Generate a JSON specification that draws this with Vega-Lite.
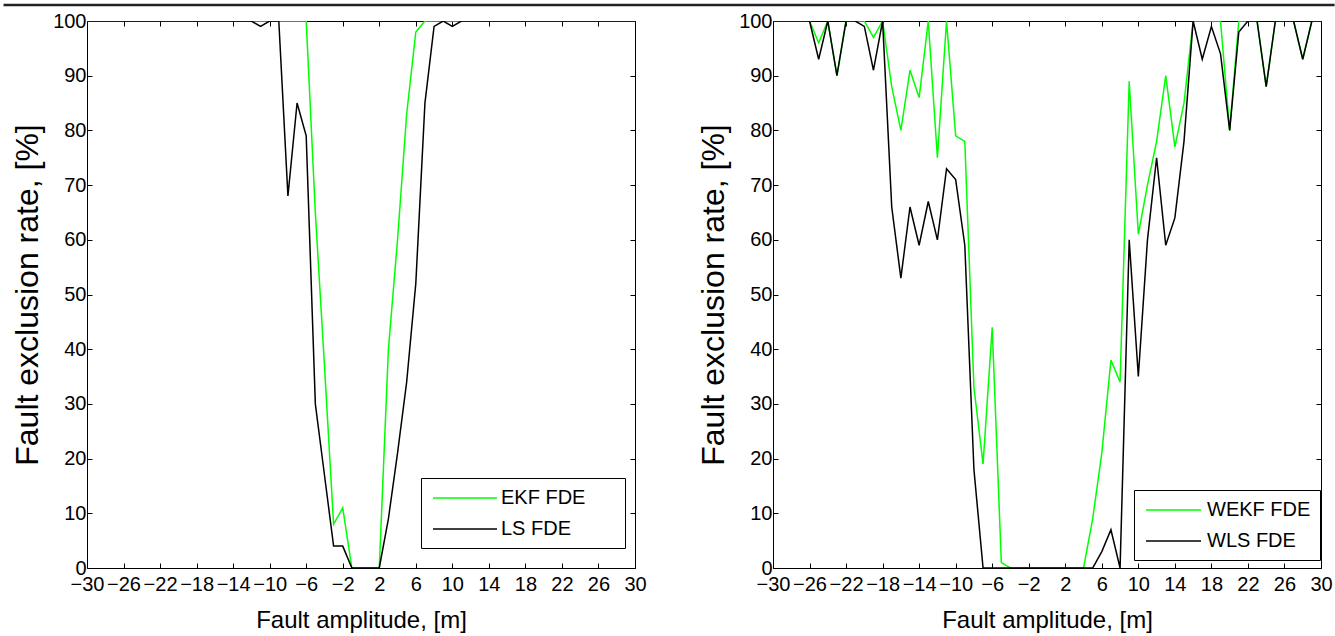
{
  "$schema": "https://vega.github.io/schema/vega-lite/v6.json",
  "background": "white",
  "padding": {"left": 1, "top": 3, "right": 0, "bottom": 5},
  "spacing": 138,
  "bounds": "flush",
  "resolve": {"scale": {"color": "independent"}, "legend": {"color": "independent"}},
  "config": {
    "font": "Liberation Sans",
    "view": {"stroke": "black", "strokeWidth": 1},
    "axis": {
      "domain": false, "grid": false, "ticks": true, "tickColor": "black", "tickSize": -5, "tickWidth": 1,
      "labelColor": "black", "labelFontSize": 20, "labelFont": "Liberation Sans", "labelPadding": 6,
      "labelFlush": false, "labelOverlap": false,
      "titleFont": "Liberation Sans", "titleFontWeight": "normal", "titleColor": "black"
    },
    "legend": {
      "orient": "none", "strokeColor": "black", "fillColor": "white", "padding": 9,
      "symbolStrokeWidth": 1.5, "symbolSize": 400, "labelFontSize": 20, "labelFont": "Liberation Sans",
      "labelColor": "black", "rowPadding": 10
    }
  },
  "datasets": {
    "left": [
      {"a":-30,"r":100,"s":"EKF FDE"},{"a":-29,"r":100,"s":"EKF FDE"},{"a":-28,"r":100,"s":"EKF FDE"},{"a":-27,"r":100,"s":"EKF FDE"},{"a":-26,"r":100,"s":"EKF FDE"},{"a":-25,"r":100,"s":"EKF FDE"},{"a":-24,"r":100,"s":"EKF FDE"},{"a":-23,"r":100,"s":"EKF FDE"},{"a":-22,"r":100,"s":"EKF FDE"},{"a":-21,"r":100,"s":"EKF FDE"},{"a":-20,"r":100,"s":"EKF FDE"},{"a":-19,"r":100,"s":"EKF FDE"},{"a":-18,"r":100,"s":"EKF FDE"},{"a":-17,"r":100,"s":"EKF FDE"},{"a":-16,"r":100,"s":"EKF FDE"},{"a":-15,"r":100,"s":"EKF FDE"},{"a":-14,"r":100,"s":"EKF FDE"},{"a":-13,"r":100,"s":"EKF FDE"},{"a":-12,"r":100,"s":"EKF FDE"},{"a":-11,"r":100,"s":"EKF FDE"},{"a":-10,"r":100,"s":"EKF FDE"},{"a":-9,"r":100,"s":"EKF FDE"},{"a":-8,"r":100,"s":"EKF FDE"},{"a":-7,"r":100,"s":"EKF FDE"},{"a":-6,"r":100,"s":"EKF FDE"},{"a":-5,"r":65,"s":"EKF FDE"},{"a":-4,"r":37,"s":"EKF FDE"},{"a":-3,"r":8,"s":"EKF FDE"},{"a":-2,"r":11,"s":"EKF FDE"},{"a":-1,"r":0,"s":"EKF FDE"},{"a":0,"r":0,"s":"EKF FDE"},{"a":1,"r":0,"s":"EKF FDE"},{"a":2,"r":0,"s":"EKF FDE"},{"a":3,"r":40,"s":"EKF FDE"},{"a":4,"r":60,"s":"EKF FDE"},{"a":5,"r":83,"s":"EKF FDE"},{"a":6,"r":98,"s":"EKF FDE"},{"a":7,"r":100,"s":"EKF FDE"},{"a":8,"r":100,"s":"EKF FDE"},{"a":9,"r":100,"s":"EKF FDE"},{"a":10,"r":100,"s":"EKF FDE"},{"a":11,"r":100,"s":"EKF FDE"},{"a":12,"r":100,"s":"EKF FDE"},{"a":13,"r":100,"s":"EKF FDE"},{"a":14,"r":100,"s":"EKF FDE"},{"a":15,"r":100,"s":"EKF FDE"},{"a":16,"r":100,"s":"EKF FDE"},{"a":17,"r":100,"s":"EKF FDE"},{"a":18,"r":100,"s":"EKF FDE"},{"a":19,"r":100,"s":"EKF FDE"},{"a":20,"r":100,"s":"EKF FDE"},{"a":21,"r":100,"s":"EKF FDE"},{"a":22,"r":100,"s":"EKF FDE"},{"a":23,"r":100,"s":"EKF FDE"},{"a":24,"r":100,"s":"EKF FDE"},{"a":25,"r":100,"s":"EKF FDE"},{"a":26,"r":100,"s":"EKF FDE"},{"a":27,"r":100,"s":"EKF FDE"},{"a":28,"r":100,"s":"EKF FDE"},{"a":29,"r":100,"s":"EKF FDE"},{"a":30,"r":100,"s":"EKF FDE"},
      {"a":-30,"r":100,"s":"LS FDE"},{"a":-29,"r":100,"s":"LS FDE"},{"a":-28,"r":100,"s":"LS FDE"},{"a":-27,"r":100,"s":"LS FDE"},{"a":-26,"r":100,"s":"LS FDE"},{"a":-25,"r":100,"s":"LS FDE"},{"a":-24,"r":100,"s":"LS FDE"},{"a":-23,"r":100,"s":"LS FDE"},{"a":-22,"r":100,"s":"LS FDE"},{"a":-21,"r":100,"s":"LS FDE"},{"a":-20,"r":100,"s":"LS FDE"},{"a":-19,"r":100,"s":"LS FDE"},{"a":-18,"r":100,"s":"LS FDE"},{"a":-17,"r":100,"s":"LS FDE"},{"a":-16,"r":100,"s":"LS FDE"},{"a":-15,"r":100,"s":"LS FDE"},{"a":-14,"r":100,"s":"LS FDE"},{"a":-13,"r":100,"s":"LS FDE"},{"a":-12,"r":100,"s":"LS FDE"},{"a":-11,"r":99,"s":"LS FDE"},{"a":-10,"r":100,"s":"LS FDE"},{"a":-9,"r":100,"s":"LS FDE"},{"a":-8,"r":68,"s":"LS FDE"},{"a":-7,"r":85,"s":"LS FDE"},{"a":-6,"r":79,"s":"LS FDE"},{"a":-5,"r":30,"s":"LS FDE"},{"a":-4,"r":17,"s":"LS FDE"},{"a":-3,"r":4,"s":"LS FDE"},{"a":-2,"r":4,"s":"LS FDE"},{"a":-1,"r":0,"s":"LS FDE"},{"a":0,"r":0,"s":"LS FDE"},{"a":1,"r":0,"s":"LS FDE"},{"a":2,"r":0,"s":"LS FDE"},{"a":3,"r":9,"s":"LS FDE"},{"a":4,"r":21,"s":"LS FDE"},{"a":5,"r":34,"s":"LS FDE"},{"a":6,"r":52,"s":"LS FDE"},{"a":7,"r":85,"s":"LS FDE"},{"a":8,"r":99,"s":"LS FDE"},{"a":9,"r":100,"s":"LS FDE"},{"a":10,"r":99,"s":"LS FDE"},{"a":11,"r":100,"s":"LS FDE"},{"a":12,"r":100,"s":"LS FDE"},{"a":13,"r":100,"s":"LS FDE"},{"a":14,"r":100,"s":"LS FDE"},{"a":15,"r":100,"s":"LS FDE"},{"a":16,"r":100,"s":"LS FDE"},{"a":17,"r":100,"s":"LS FDE"},{"a":18,"r":100,"s":"LS FDE"},{"a":19,"r":100,"s":"LS FDE"},{"a":20,"r":100,"s":"LS FDE"},{"a":21,"r":100,"s":"LS FDE"},{"a":22,"r":100,"s":"LS FDE"},{"a":23,"r":100,"s":"LS FDE"},{"a":24,"r":100,"s":"LS FDE"},{"a":25,"r":100,"s":"LS FDE"},{"a":26,"r":100,"s":"LS FDE"},{"a":27,"r":100,"s":"LS FDE"},{"a":28,"r":100,"s":"LS FDE"},{"a":29,"r":100,"s":"LS FDE"},{"a":30,"r":100,"s":"LS FDE"}
    ],
    "right": [
      {"a":-30,"r":100,"s":"WEKF FDE"},{"a":-29,"r":100,"s":"WEKF FDE"},{"a":-28,"r":100,"s":"WEKF FDE"},{"a":-27,"r":100,"s":"WEKF FDE"},{"a":-26,"r":100,"s":"WEKF FDE"},{"a":-25,"r":96,"s":"WEKF FDE"},{"a":-24,"r":100,"s":"WEKF FDE"},{"a":-23,"r":90,"s":"WEKF FDE"},{"a":-22,"r":100,"s":"WEKF FDE"},{"a":-21,"r":100,"s":"WEKF FDE"},{"a":-20,"r":100,"s":"WEKF FDE"},{"a":-19,"r":97,"s":"WEKF FDE"},{"a":-18,"r":100,"s":"WEKF FDE"},{"a":-17,"r":88,"s":"WEKF FDE"},{"a":-16,"r":80,"s":"WEKF FDE"},{"a":-15,"r":91,"s":"WEKF FDE"},{"a":-14,"r":86,"s":"WEKF FDE"},{"a":-13,"r":100,"s":"WEKF FDE"},{"a":-12,"r":75,"s":"WEKF FDE"},{"a":-11,"r":100,"s":"WEKF FDE"},{"a":-10,"r":79,"s":"WEKF FDE"},{"a":-9,"r":78,"s":"WEKF FDE"},{"a":-8,"r":33,"s":"WEKF FDE"},{"a":-7,"r":19,"s":"WEKF FDE"},{"a":-6,"r":44,"s":"WEKF FDE"},{"a":-5,"r":1,"s":"WEKF FDE"},{"a":-4,"r":0,"s":"WEKF FDE"},{"a":-3,"r":0,"s":"WEKF FDE"},{"a":-2,"r":0,"s":"WEKF FDE"},{"a":-1,"r":0,"s":"WEKF FDE"},{"a":0,"r":0,"s":"WEKF FDE"},{"a":1,"r":0,"s":"WEKF FDE"},{"a":2,"r":0,"s":"WEKF FDE"},{"a":3,"r":0,"s":"WEKF FDE"},{"a":4,"r":0,"s":"WEKF FDE"},{"a":5,"r":9,"s":"WEKF FDE"},{"a":6,"r":21,"s":"WEKF FDE"},{"a":7,"r":38,"s":"WEKF FDE"},{"a":8,"r":34,"s":"WEKF FDE"},{"a":9,"r":89,"s":"WEKF FDE"},{"a":10,"r":61,"s":"WEKF FDE"},{"a":11,"r":70,"s":"WEKF FDE"},{"a":12,"r":78,"s":"WEKF FDE"},{"a":13,"r":90,"s":"WEKF FDE"},{"a":14,"r":77,"s":"WEKF FDE"},{"a":15,"r":85,"s":"WEKF FDE"},{"a":16,"r":100,"s":"WEKF FDE"},{"a":17,"r":100,"s":"WEKF FDE"},{"a":18,"r":100,"s":"WEKF FDE"},{"a":19,"r":100,"s":"WEKF FDE"},{"a":20,"r":80,"s":"WEKF FDE"},{"a":21,"r":100,"s":"WEKF FDE"},{"a":22,"r":100,"s":"WEKF FDE"},{"a":23,"r":100,"s":"WEKF FDE"},{"a":24,"r":88,"s":"WEKF FDE"},{"a":25,"r":100,"s":"WEKF FDE"},{"a":26,"r":100,"s":"WEKF FDE"},{"a":27,"r":100,"s":"WEKF FDE"},{"a":28,"r":93,"s":"WEKF FDE"},{"a":29,"r":100,"s":"WEKF FDE"},{"a":30,"r":100,"s":"WEKF FDE"},
      {"a":-30,"r":100,"s":"WLS FDE"},{"a":-29,"r":100,"s":"WLS FDE"},{"a":-28,"r":100,"s":"WLS FDE"},{"a":-27,"r":100,"s":"WLS FDE"},{"a":-26,"r":100,"s":"WLS FDE"},{"a":-25,"r":93,"s":"WLS FDE"},{"a":-24,"r":100,"s":"WLS FDE"},{"a":-23,"r":90,"s":"WLS FDE"},{"a":-22,"r":100,"s":"WLS FDE"},{"a":-21,"r":100,"s":"WLS FDE"},{"a":-20,"r":99,"s":"WLS FDE"},{"a":-19,"r":91,"s":"WLS FDE"},{"a":-18,"r":100,"s":"WLS FDE"},{"a":-17,"r":66,"s":"WLS FDE"},{"a":-16,"r":53,"s":"WLS FDE"},{"a":-15,"r":66,"s":"WLS FDE"},{"a":-14,"r":59,"s":"WLS FDE"},{"a":-13,"r":67,"s":"WLS FDE"},{"a":-12,"r":60,"s":"WLS FDE"},{"a":-11,"r":73,"s":"WLS FDE"},{"a":-10,"r":71,"s":"WLS FDE"},{"a":-9,"r":59,"s":"WLS FDE"},{"a":-8,"r":18,"s":"WLS FDE"},{"a":-7,"r":0,"s":"WLS FDE"},{"a":-6,"r":0,"s":"WLS FDE"},{"a":-5,"r":0,"s":"WLS FDE"},{"a":-4,"r":0,"s":"WLS FDE"},{"a":-3,"r":0,"s":"WLS FDE"},{"a":-2,"r":0,"s":"WLS FDE"},{"a":-1,"r":0,"s":"WLS FDE"},{"a":0,"r":0,"s":"WLS FDE"},{"a":1,"r":0,"s":"WLS FDE"},{"a":2,"r":0,"s":"WLS FDE"},{"a":3,"r":0,"s":"WLS FDE"},{"a":4,"r":0,"s":"WLS FDE"},{"a":5,"r":0,"s":"WLS FDE"},{"a":6,"r":3,"s":"WLS FDE"},{"a":7,"r":7,"s":"WLS FDE"},{"a":8,"r":0,"s":"WLS FDE"},{"a":9,"r":60,"s":"WLS FDE"},{"a":10,"r":35,"s":"WLS FDE"},{"a":11,"r":60,"s":"WLS FDE"},{"a":12,"r":75,"s":"WLS FDE"},{"a":13,"r":59,"s":"WLS FDE"},{"a":14,"r":64,"s":"WLS FDE"},{"a":15,"r":78,"s":"WLS FDE"},{"a":16,"r":100,"s":"WLS FDE"},{"a":17,"r":93,"s":"WLS FDE"},{"a":18,"r":99,"s":"WLS FDE"},{"a":19,"r":94,"s":"WLS FDE"},{"a":20,"r":80,"s":"WLS FDE"},{"a":21,"r":98,"s":"WLS FDE"},{"a":22,"r":100,"s":"WLS FDE"},{"a":23,"r":100,"s":"WLS FDE"},{"a":24,"r":88,"s":"WLS FDE"},{"a":25,"r":100,"s":"WLS FDE"},{"a":26,"r":100,"s":"WLS FDE"},{"a":27,"r":100,"s":"WLS FDE"},{"a":28,"r":93,"s":"WLS FDE"},{"a":29,"r":100,"s":"WLS FDE"},{"a":30,"r":100,"s":"WLS FDE"}
    ]
  },
  "hconcat": [
    {
      "width": 548, "height": 547,
      "resolve": {"axis": {"x": "independent", "y": "independent"}},
      "layer": [
        {
          "data": {"name": "left"},
          "mark": {"type": "line", "strokeWidth": 1.5, "clip": true},
          "encoding": {
            "x": {"field": "a", "type": "quantitative", "scale": {"domain": [-30, 30], "nice": false, "zero": false},
                  "axis": {"orient": "bottom", "values": [-30,-26,-22,-18,-14,-10,-6,-2,2,6,10,14,18,22,26,30], "labelPadding": 11, "title": "Fault amplitude, [m]", "titleFontSize": 24, "titlePadding": 14}},
            "y": {"field": "r", "type": "quantitative", "scale": {"domain": [0, 100], "nice": false},
                  "axis": {"orient": "left", "values": [0,10,20,30,40,50,60,70,80,90,100], "title": "Fault exclusion rate, [%]", "titleFontSize": 32, "titlePadding": 8}},
            "color": {"field": "s", "type": "nominal",
                      "scale": {"domain": ["EKF FDE", "LS FDE"], "range": ["#00ff00", "#000000"]},
                      "legend": {"title": null, "legendX": 334, "legendY": 457, "symbolType": "M-3.2,0H3.2", "symbolOffset": 24, "labelOffset": 25, "labelExpr": "datum.label + '\u2003\u2002\u200b'"}}
          }
        },
        {
          "data": {"values": [{}]},
          "mark": {"type": "rule", "color": "#222222", "strokeWidth": 2.5},
          "encoding": {
            "x": {"datum": -39.14, "type": "quantitative", "scale": {"domain": [-30, 30], "nice": false, "zero": false},
                  "axis": {"orient": "top", "values": [-30,-26,-22,-18,-14,-10,-6,-2,2,6,10,14,18,22,26,30], "labels": false, "title": null}},
            "x2": {"datum": 106.6},
            "y": {"datum": 102.93, "type": "quantitative", "scale": {"domain": [0, 100], "nice": false},
                  "axis": {"orient": "right", "values": [0,10,20,30,40,50,60,70,80,90,100], "labels": false, "title": null}}
          }
        }
      ]
    },
    {
      "width": 548, "height": 547,
      "resolve": {"axis": {"x": "independent", "y": "independent"}},
      "layer": [
        {
          "data": {"name": "right"},
          "mark": {"type": "line", "strokeWidth": 1.5, "clip": true},
          "encoding": {
            "x": {"field": "a", "type": "quantitative", "scale": {"domain": [-30, 30], "nice": false, "zero": false},
                  "axis": {"orient": "bottom", "values": [-30,-26,-22,-18,-14,-10,-6,-2,2,6,10,14,18,22,26,30], "labelPadding": 11, "title": "Fault amplitude, [m]", "titleFontSize": 24, "titlePadding": 14}},
            "y": {"field": "r", "type": "quantitative", "scale": {"domain": [0, 100], "nice": false},
                  "axis": {"orient": "left", "values": [0,10,20,30,40,50,60,70,80,90,100], "title": "Fault exclusion rate, [%]", "titleFontSize": 32, "titlePadding": 8}},
            "color": {"field": "s", "type": "nominal",
                      "scale": {"domain": ["WEKF FDE", "WLS FDE"], "range": ["#00ff00", "#000000"]},
                      "legend": {"title": null, "legendX": 361, "legendY": 469, "symbolType": "M-2.75,0H2.75", "symbolOffset": 19.5, "labelOffset": 22.5}}
          }
        },
        {
          "data": {"values": [{}]},
          "mark": {"type": "rule", "opacity": 0},
          "encoding": {
            "x": {"datum": 0, "type": "quantitative", "scale": {"domain": [-30, 30], "nice": false, "zero": false},
                  "axis": {"orient": "top", "values": [-30,-26,-22,-18,-14,-10,-6,-2,2,6,10,14,18,22,26,30], "labels": false, "title": null}},
            "y": {"datum": 50, "type": "quantitative", "scale": {"domain": [0, 100], "nice": false},
                  "axis": {"orient": "right", "values": [0,10,20,30,40,50,60,70,80,90,100], "labels": false, "title": null}}
          }
        }
      ]
    }
  ]
}
